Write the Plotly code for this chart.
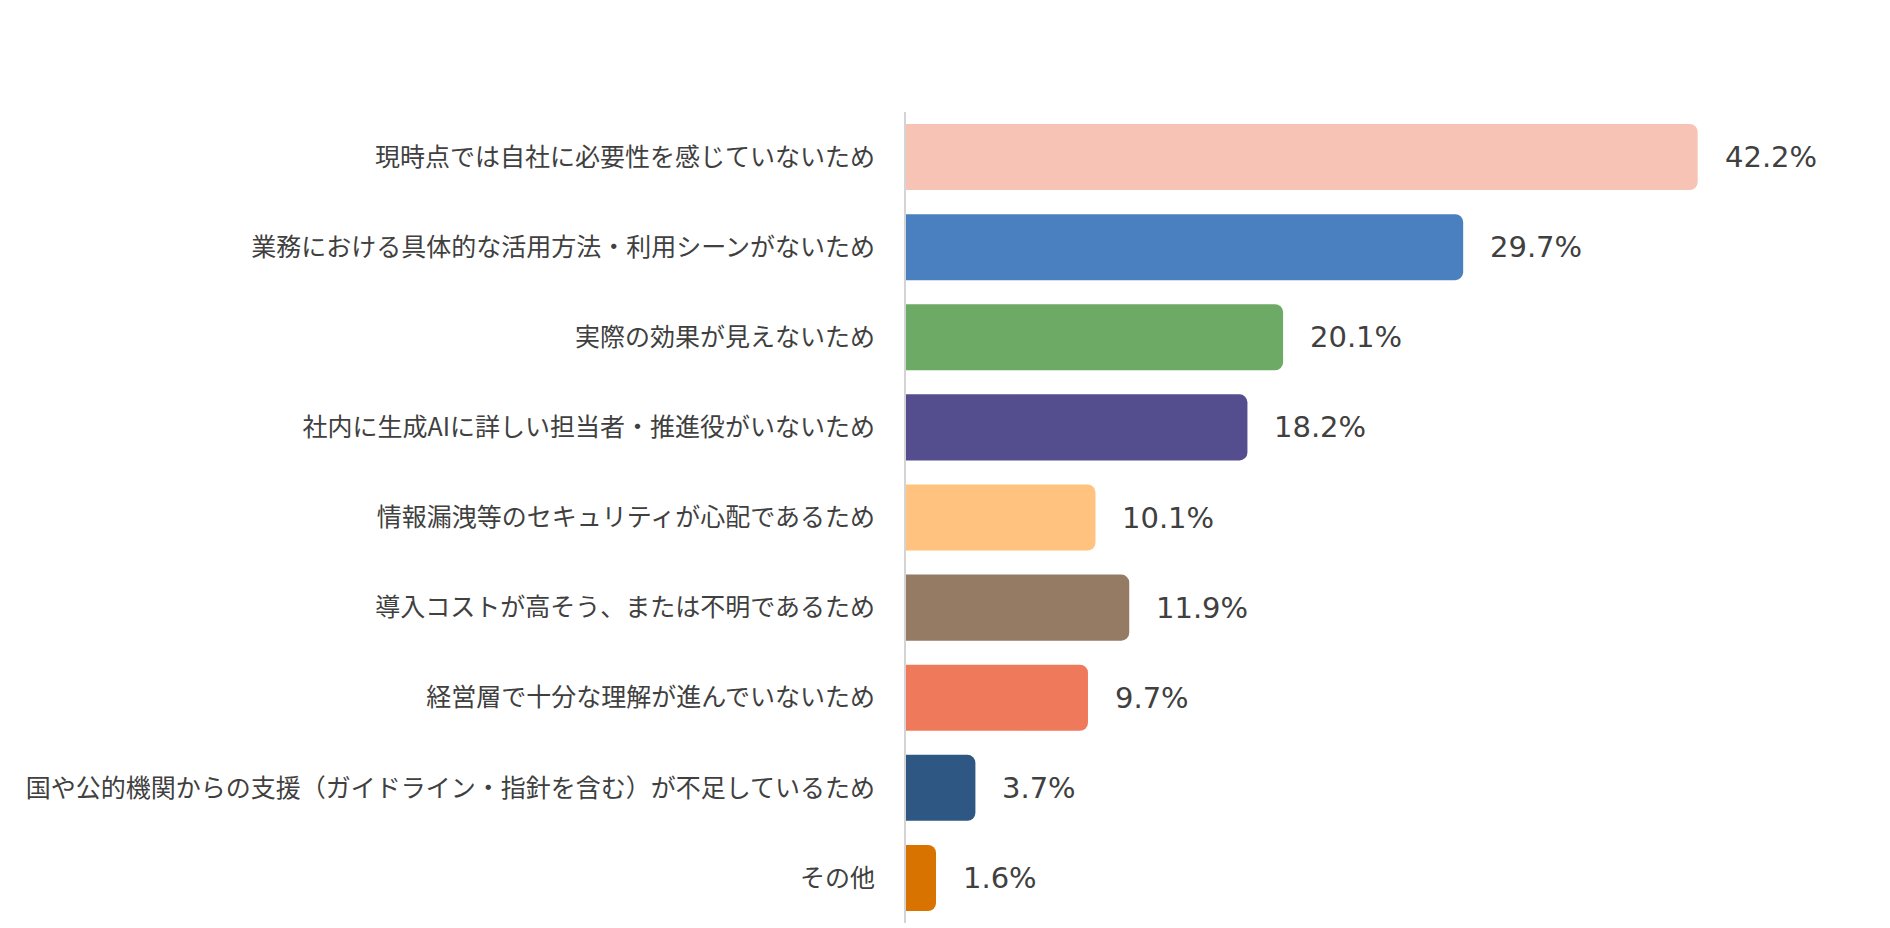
import plotly.graph_objects as go

# 生成AIを導入していない理由 (%)
reasons = [
    "現時点では自社に必要性を感じていないため",
    "業務における具体的な活用方法・利用シーンがないため",
    "実際の効果が見えないため",
    "社内に生成AIに詳しい担当者・推進役がいないため",
    "情報漏洩等のセキュリティが心配であるため",
    "導入コストが高そう、または不明であるため",
    "経営層で十分な理解が進んでいないため",
    "国や公的機関からの支援（ガイドライン・指針を含む）が不足しているため",
    "その他",
]
shares = [42.2, 29.7, 20.1, 18.2, 10.1, 11.9, 9.7, 3.7, 1.6]
bar_colors = ["#F7C3B4", "#4A80BF", "#6DAA65", "#544E8F", "#FFC27F",
              "#957A64", "#EF7A5B", "#2E5883", "#D97300"]

fig = go.Figure(go.Bar(
    x=shares,
    y=reasons,
    orientation="h",
    marker=dict(color=bar_colors, line_width=0),
    hovertemplate="%{y}: %{x:.1f}%<extra></extra>",
))

# value labels to the right of each bar
for r, s in zip(reasons, shares):
    fig.add_annotation(
        x=s, y=r, text=f"{s:.1f}%",
        xanchor="left", yanchor="middle", xshift=25,
        showarrow=False,
        font=dict(family="DejaVu Sans", size=29, color="#404040"),
    )

fig.update_layout(
    width=1882,
    height=920,
    margin=dict(l=898, r=46, t=104, b=5),
    paper_bgcolor="white",
    plot_bgcolor="white",
    bargap=0.267,
    barcornerradius=8,
    showlegend=False,
)
fig.update_xaxes(range=[0, 50], visible=False)
fig.update_yaxes(
    autorange="reversed",
    automargin=False,
    showline=True, linecolor="#D4D4D4", linewidth=2,
    showgrid=False, ticks="", ticklabelstandoff=24,
    tickfont=dict(family="Noto Sans CJK JP", size=25, color="#404040"),
)

fig.write_html("out.html")
